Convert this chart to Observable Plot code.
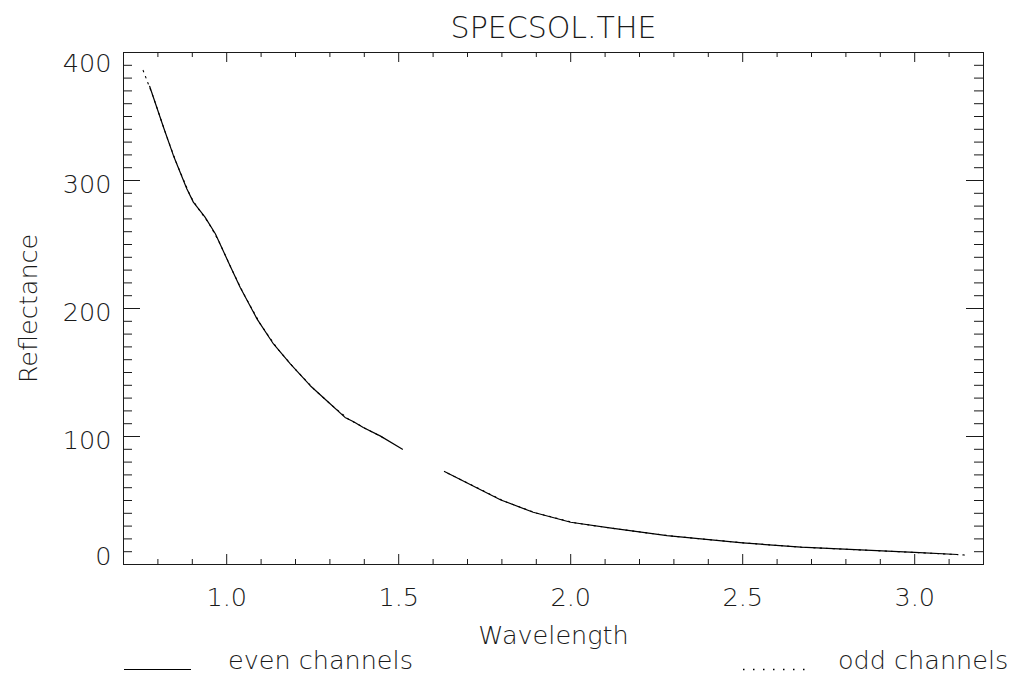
<!DOCTYPE html>
<html><head><meta charset="utf-8">
<script src="https://cdn.jsdelivr.net/npm/d3@7"></script>
<script src="https://cdn.jsdelivr.net/npm/@observablehq/plot@0.6"></script>
<style>
body{margin:0;background:#fff;}
#chart{width:1019px;height:675px;overflow:hidden;}
#chart svg{display:block;}
</style></head><body><div id="chart"></div>
<script>
// ---- data ----
const titleText = "SPECSOL.THE";
const xLabelText = "Wavelength";
const yLabelText = "Reflectance";
const legendLabels = ["even channels", "odd channels"];

const xDomain = [0.7, 3.2];
const yDomain = [0, 400];
const xMajorTicks = [1.0, 1.5, 2.0, 2.5, 3.0];
const xTickLabels = ["1.0", "1.5", "2.0", "2.5", "3.0"];
const xMinorTicks = [0.8, 0.9, 1.1, 1.2, 1.3, 1.4, 1.6, 1.7, 1.8, 1.9, 2.1, 2.2, 2.3, 2.4, 2.6, 2.7, 2.8, 2.9, 3.1];
const yMajorTicks = [0, 100, 200, 300, 400];
const yTickLabels = ["0", "100", "200", "300", "400"];
const yMinorTicks = [10, 20, 30, 40, 50, 60, 70, 80, 90, 110, 120, 130, 140, 150, 160, 170, 180, 190,
  210, 220, 230, 240, 250, 260, 270, 280, 290, 310, 320, 330, 340, 350, 360, 370, 380, 390];

// even channels (null = gap in the spectrum)
const evenWave = [0.776, 0.816, 0.845, 0.884, 0.903, 0.937, 0.967, 1.005, 1.039, 1.088, 1.136, 1.185,
  1.243, 1.291, 1.344, 1.369, 1.397, 1.446, 1.511, 1.57, 1.633, 1.797, 1.891, 2.0, 2.113, 2.28, 2.5,
  2.669, 3.0, 3.124];
const evenRefl = [373.6, 341.8, 319.6, 293.6, 283.1, 271.4, 258.4, 236.2, 216.6, 191.9, 172.3, 156.7,
  139.7, 127.9, 114.9, 111.5, 107.0, 100.5, 90.1, null, 72.7, 50.4, 40.8, 33.0, 28.6, 22.6, 16.9,
  13.5, 9.4, 7.8];
// odd channels (null = gap in the spectrum)
const oddWave = [0.757, 0.786, 0.826, 0.855, 0.894, 0.913, 0.947, 0.977, 1.015, 1.049, 1.098, 1.146,
  1.195, 1.253, 1.301, 1.354, 1.379, 1.407, 1.456, 1.57, 1.643, 1.807, 1.901, 2.01, 2.123, 2.29, 2.51,
  2.679, 3.01, 3.147];
const oddRefl = [386.0, 365.7, 334.1, 312.9, 288.1, 279.7, 267.1, 252.6, 230.4, 211.6, 187.8, 169.1,
  153.8, 137.2, 125.4, 113.5, 109.9, 105.7, 98.9, null, 71.3, 49.4, 40.1, 32.6, 28.2, 22.3, 16.7,
  13.4, 9.3, 7.4];

// ---- layout ----
const W = 1019, H = 645, mL = 123, mR = 36, mT = 52, mB = 81;
const innerW = W - mL - mR, innerH = H - mT - mB;
const font = "'DejaVu Sans', 'Liberation Sans', sans-serif";
const ink = "#1a1a1a";
const fs = 25.5;

const even = evenWave.map((w, i) => ({w, r: evenRefl[i]}));
const odd = oddWave.map((w, i) => ({w, r: oddRefl[i]}));

const plot = Plot.plot({
  width: W, height: H,
  marginLeft: mL, marginRight: mR, marginTop: mT, marginBottom: mB,
  x: {domain: xDomain, axis: null},
  y: {domain: yDomain, axis: null},
  style: {fontFamily: font, fontWeight: 200, background: "white", color: ink, overflow: "visible"},
  marks: [
    Plot.frame({stroke: ink}),
    // bottom ticks
    Plot.tickX(xMajorTicks, {x: d => d, insetTop: innerH - 10, stroke: ink}),
    Plot.tickX(xMinorTicks, {x: d => d, insetTop: innerH - 5, stroke: ink}),
    // top ticks
    Plot.tickX(xMajorTicks, {x: d => d, insetBottom: innerH - 10, stroke: ink}),
    Plot.tickX(xMinorTicks, {x: d => d, insetBottom: innerH - 5, stroke: ink}),
    // left ticks
    Plot.tickY(yMajorTicks, {y: d => d, insetRight: innerW - 17, stroke: ink}),
    Plot.tickY(yMinorTicks, {y: d => d, insetRight: innerW - 9, stroke: ink}),
    // right ticks
    Plot.tickY(yMajorTicks, {y: d => d, insetLeft: innerW - 17, stroke: ink}),
    Plot.tickY(yMinorTicks, {y: d => d, insetLeft: innerW - 9, stroke: ink}),
    // x tick labels
    Plot.text(xMajorTicks, {x: d => d, text: (d, i) => xTickLabels[i], frameAnchor: "bottom",
      lineAnchor: "bottom", dy: 41, fontSize: fs, fill: ink}),
    // y tick labels
    Plot.text(yMajorTicks.filter(v => v > yDomain[0] && v < yDomain[1]),
      {y: d => d, text: d => yTickLabels[yMajorTicks.indexOf(d)], frameAnchor: "left", textAnchor: "end",
       lineAnchor: "bottom", dx: -12, dy: 12, fontSize: fs, fill: ink}),
    Plot.text(yMajorTicks.filter(v => v === yDomain[1]),
      {y: d => d, text: d => yTickLabels[yMajorTicks.indexOf(d)], frameAnchor: "left", textAnchor: "end",
       lineAnchor: "bottom", dx: -12, dy: 19.5, fontSize: fs, fill: ink}),
    Plot.text(yMajorTicks.filter(v => v === yDomain[0]),
      {y: d => d, text: d => yTickLabels[yMajorTicks.indexOf(d)], frameAnchor: "left", textAnchor: "end",
       lineAnchor: "bottom", dx: -12, dy: 0.5, fontSize: fs, fill: ink}),
    // axis titles
    Plot.text([xLabelText], {frameAnchor: "bottom", lineAnchor: "bottom", dy: 79, fontSize: fs, fill: ink,
      letterSpacing: 0.5}),
    Plot.text([yLabelText], {frameAnchor: "left", textAnchor: "middle", lineAnchor: "bottom", rotate: -90,
      dx: -87, fontSize: fs, fill: ink, letterSpacing: 1}),
    Plot.text([titleText], {frameAnchor: "top", lineAnchor: "bottom", dy: -15, fontSize: 30, fill: ink}),
    // data
    Plot.line(odd, {x: "w", y: "r", stroke: "#000", strokeWidth: 1.1, strokeDasharray: "1.5,5"}),
    Plot.line(even, {x: "w", y: "r", stroke: "#000", strokeWidth: 1.2})
  ]
});

const chart = document.getElementById("chart");
chart.appendChild(plot);

// legend below the plot
const NS = "http://www.w3.org/2000/svg";
const leg = document.createElementNS(NS, "svg");
leg.setAttribute("width", W);
leg.setAttribute("height", 30);
leg.style.display = "block";
leg.style.fontFamily = font;
leg.style.fontWeight = 200;
function el(tag, attrs, txt) {
  const e = document.createElementNS(NS, tag);
  for (const k in attrs) e.setAttribute(k, attrs[k]);
  if (txt) e.textContent = txt;
  leg.appendChild(e);
  return e;
}
el("line", {x1: 124, x2: 191, y1: 24.5, y2: 24.5, stroke: "#000", "stroke-width": 1.2});
el("text", {x: 228, y: 23.5, "font-size": fs, fill: ink}, legendLabels[0]);
el("line", {x1: 743, x2: 806, y1: 24.5, y2: 24.5, stroke: "#000", "stroke-width": 1.5, "stroke-dasharray": "1.5,8.5"});
el("text", {x: 838, y: 23.5, "font-size": fs, fill: ink}, legendLabels[1]);
chart.appendChild(leg);
</script>
</body></html>
